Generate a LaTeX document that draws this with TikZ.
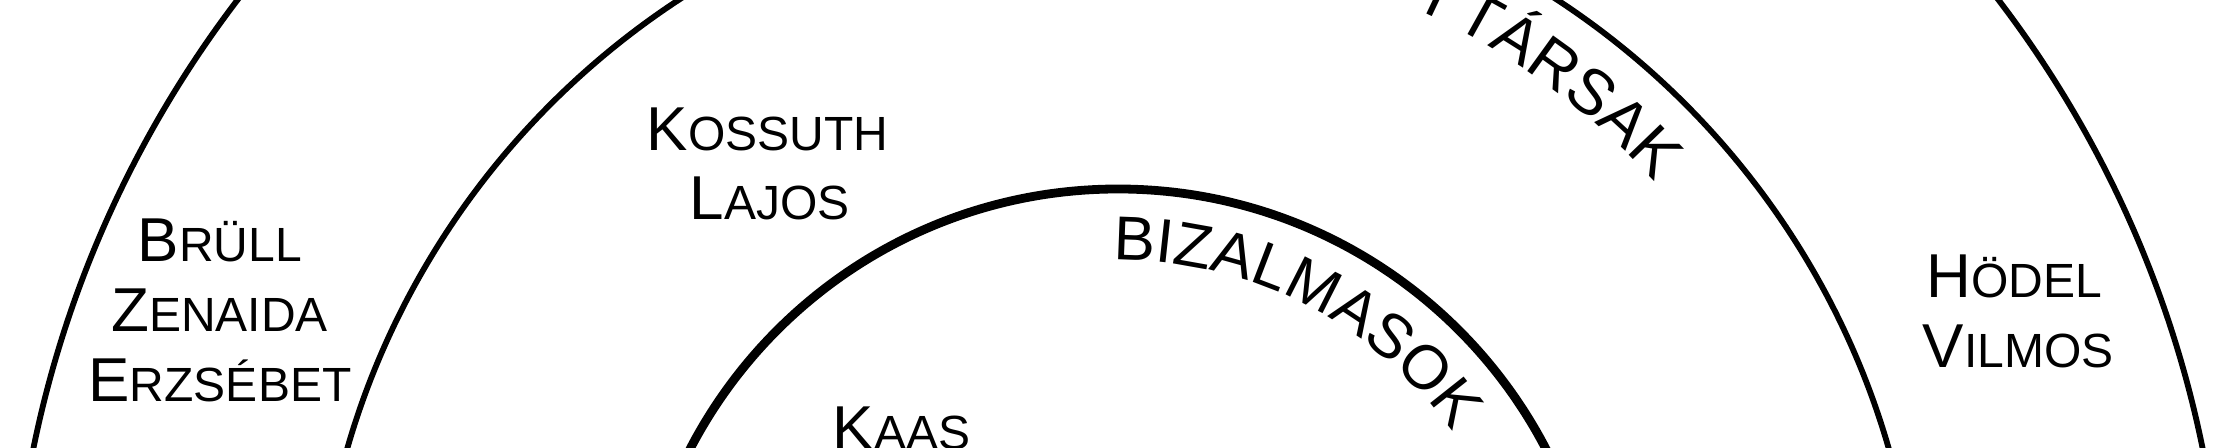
\documentclass[tikz,border=0pt]{standalone}
\usepackage{fontspec}
\setmainfont{Liberation Sans}
\usetikzlibrary{decorations.text}
\newcommand\bigf{\fontsize{31}{31}\selectfont}
\newcommand\arcf{\fontsize{32}{32}\selectfont}
\newcommand\smallf{\fontsize{24}{24}\selectfont}
\newcommand\mysc[2]{{\bigf #1}{\smallf #2}}
\begin{document}
\begin{tikzpicture}[x=0.5pt,y=0.5pt,
  ring/.style={draw=black,line width=2.9pt},
  innerring/.style={draw=black,line width=4.4pt},
  personlbl/.style={anchor=base,inner sep=0pt,text=black}]
\useasboundingbox (0,0) rectangle (2238,448);
\clip (0,0) rectangle (2238,448);
\fill[white] (0,0) rectangle (2238,448);
\coordinate (c) at (1118,-223);
\draw[ring] (c) circle[radius=1107];
\draw[ring] (c) circle[radius=802];
\draw[innerring] (c) circle[radius=482];
% curved labels
\path[decorate,decoration={text along path,text align=left,
  text={|\bigf|BIZALMASOK}}]
  (c) ++(90.7:411) arc[start angle=90.7,end angle=10,radius=411];
\path[decorate,decoration={text along path,text align=right,
  text={|\arcf|I TÁRSAK}}]
  (c) ++(120:726) arc[start angle=120,end angle=42.3,radius=726];
% names
\node[personlbl] (b1) at (220,186) {\mysc{B}{RÜLL}};
\node[personlbl] (b2) at (219.5,116) {\mysc{Z}{ENAIDA}};
\node[personlbl] (b3) at (220,46) {\mysc{E}{RZSÉBET}};
\node[personlbl] (k1) at (767.5,297) {\mysc{K}{OSSUTH}};
\node[personlbl] (k2) at (769.5,228) {\mysc{L}{AJOS}};
\node[personlbl] (ka) at (901.5,-2) {\mysc{K}{AAS}};
\node[personlbl] (h1) at (2014.5,150) {\mysc{H}{ÖDEL}};
\node[personlbl] (h2) at (2018,80) {\mysc{V}{ILMOS}};
\end{tikzpicture}
\end{document}
